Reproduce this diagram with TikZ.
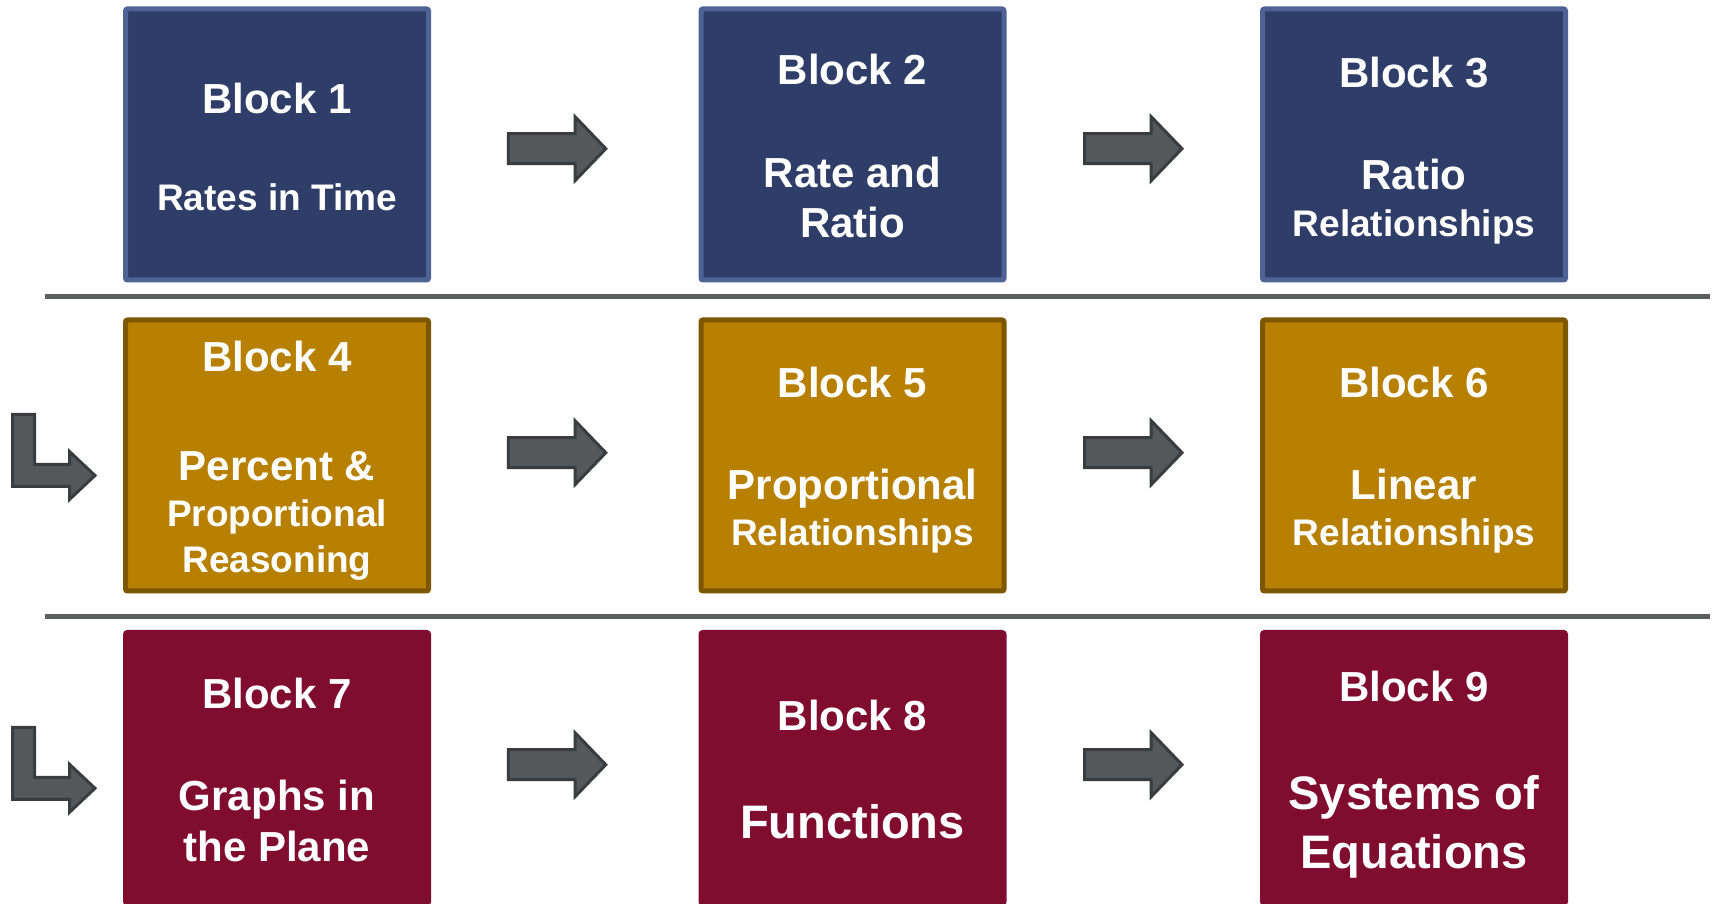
\documentclass[tikz,border=0pt]{standalone}
\usepackage{fontspec}
\setmainfont{Liberation Sans}
\usepackage{xcolor}
\usetikzlibrary{positioning}

\definecolor{navyfill}{HTML}{2F3D69}
\definecolor{navyline}{HTML}{4F6296}
\definecolor{goldfill}{HTML}{B88000}
\definecolor{goldline}{HTML}{7D5700}
\definecolor{maroonfill}{HTML}{800D2F}
\definecolor{arrowfill}{HTML}{54585A}
\definecolor{arrowline}{HTML}{3A3D40}
\definecolor{sepgray}{HTML}{595E61}

\newcommand\blknorm{\fontsize{42}{50}\selectfont}
\newcommand\blksmall{\fontsize{37}{50}\selectfont}
\newcommand\blklarge{\fontsize{47}{50}\selectfont}

\begin{document}
\begin{tikzpicture}[
  x=1pt, y=1pt,
  block/.style={rectangle, rounded corners=2pt, line width=5pt, inner sep=0pt,
                minimum width=303pt, minimum height=271pt},
  navy/.style={block, fill=navyfill, draw=navyline},
  gold/.style={block, fill=goldfill, draw=goldline},
  maroon/.style={block, fill=maroonfill, draw=maroonfill},
  blocktext/.style={text=white, font=\bfseries\blknorm, align=center, inner sep=0pt, outer sep=0pt},
  sepline/.style={line width=5pt, draw=sepgray},
  arrowshape/.style={fill=arrowfill, draw=arrowline, line width=3pt, line join=miter},
  fatarrow/.pic={\draw[arrowshape] (-49,-15) -- (17.6,-15) -- (17.6,-32) -- (48.4,0)
                   -- (17.6,32) -- (17.6,15) -- (-49,15) -- cycle;},
  elbowarrow/.pic={\draw[arrowshape] (-84.5,61) -- (-62.5,61) -- (-62.5,11) -- (-27.5,11)
                   -- (-27.5,24) -- (-2,0) -- (-27.5,-24) -- (-27.5,-11) -- (-84.5,-11) -- cycle;}
]
\useasboundingbox (0,0) rectangle (1714,903);

% blocks
\node[navy] (b1) at (277,758.5) {};
\node[navy] (b2) at (852.5,758.5) {};
\node[navy] (b3) at (1414,758.5) {};
\node[gold] (b4) at (277,447.5) {};
\node[gold] (b5) at (852.5,447.5) {};
\node[gold] (b6) at (1414,447.5) {};
\node[maroon] (b7) at (277,135) {};
\node[maroon] (b8) at (852.5,135) {};
\node[maroon] (b9) at (1414,135) {};

% texts
\node[blocktext, below=77pt of b1.north] (t1) {Block 1\\[47pt]{\blksmall Rates in Time}};
\node[blocktext, below=48pt of b2.north] (t2) {Block 2\\[53pt]Rate and\\Ratio};
\node[blocktext, below=51pt of b3.north] (t3) {Block 3\\[52pt]Ratio\\[-3pt]{\blksmall Relationships}};
\node[blocktext, below=24pt of b4.north] (t4) {Block 4\\[59pt]Percent \&\\[-4pt]{\blksmall Proportional}\\[-4pt]{\blksmall Reasoning}};
\node[blocktext, below=50pt of b5.north] (t5) {Block 5\\[52pt]Proportional\\[-4pt]{\blksmall Relationships}};
\node[blocktext, below=50pt of b6.north] (t6) {Block 6\\[52pt]Linear\\[-4pt]{\blksmall Relationships}};
\node[blocktext, below=48pt of b7.north] (t7) {Block 7\\[52pt]Graphs in\\[1pt]the Plane};
\node[blocktext, below=70pt of b8.north] (t8) {Block 8\\[58pt]{\blklarge Functions}};
\node[blocktext, below=41pt of b9.north] (t9) {Block 9\\[58pt]{\blklarge Systems of}\\[9pt]{\blklarge Equations}};

% row separators
\draw[sepline] (45,606.5) -- (1710,606.5);
\draw[sepline] (45,286.3) -- (1710,286.3);

% arrows
\foreach \ay in {754.3,450.3,138.3} {
  \pic at (557.4,\ay) {fatarrow};
  \pic at (1133.6,\ay) {fatarrow};
}
\pic at (97,427.5) {elbowarrow};
\pic at (97,114.7) {elbowarrow};
\end{tikzpicture}
\end{document}
